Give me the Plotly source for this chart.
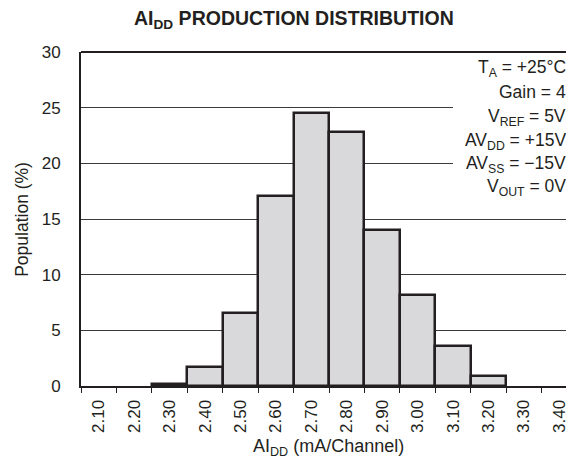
import plotly.graph_objects as go

bins = ["2.10", "2.20", "2.30", "2.40", "2.50", "2.60", "2.70",
        "2.80", "2.90", "3.00", "3.10", "3.20", "3.30", "3.40"]
population = [0, 0, 0.2, 1.7, 6.6, 17.1, 24.5, 22.85, 14.0, 8.2, 3.6, 0.9, 0, 0]
y_ticks = [0, 5, 10, 15, 20, 25, 30]
conditions = ["T<sub>A</sub> = +25°C", "Gain = 4", "V<sub>REF</sub> = 5V",
              "AV<sub>DD</sub> = +15V", "AV<sub>SS</sub> = −15V", "V<sub>OUT</sub> = 0V"]
cond_y = [0.952, 0.880, 0.805, 0.733, 0.664, 0.594]

FONT = "Liberation Sans, Arial, Helvetica, sans-serif"
DARK = "#231f20"
XR = [-0.5, 13.415]

outline_w = [2.5 if v > 0 else 0 for v in population]

fig = go.Figure()
fig.add_trace(go.Bar(x=bins, y=population,
                     marker=dict(color="#d9d9db", line=dict(color=DARK, width=outline_w)),
                     showlegend=False, hoverinfo="x+y"))

fig.update_layout(
    width=566, height=453,
    margin=dict(l=73, r=0, t=44, b=75),
    paper_bgcolor="white", plot_bgcolor="white",
    bargap=0,
    font=dict(family=FONT, color=DARK),
    xaxis=dict(type="category", categoryorder="array", categoryarray=bins,
               range=XR, tickson="boundaries", ticks="outside", ticklen=5,
               tickwidth=1.2, tickcolor=DARK, tickangle=-90,
               ticklabelstandoff=5,
               tickfont=dict(size=17, color=DARK),
               showline=True, linewidth=2, linecolor=DARK, showgrid=False,
               zeroline=False),
    xaxis2=dict(overlaying="x", anchor="y", range=XR, showticklabels=False,
                tickvals=[i - 0.5 for i in range(len(bins) + 1)],
                ticks="inside", ticklen=4, tickwidth=1.2, tickcolor=DARK,
                showgrid=False, zeroline=False, showline=False, side="bottom"),
    yaxis=dict(range=[0, 30], tickvals=y_ticks, ticks="outside", ticklen=15,
               tickcolor="rgba(0,0,0,0)", tickfont=dict(size=17, color=DARK),
               showgrid=True, gridcolor="#3a3a3a", gridwidth=1,
               showline=True, linewidth=2, linecolor=DARK, zeroline=False),
)

# top border of the frame
fig.add_shape(type="line", xref="paper", yref="paper", x0=0, x1=1, y0=1, y1=1,
              line=dict(color=DARK, width=2), layer="above")
# white background behind the conditions text
fig.add_shape(type="rect", xref="paper", yref="paper", x0=0.7546, x1=0.986,
              y0=0.56, y1=0.99, fillcolor="white", line=dict(width=0), layer="above")

for txt, yy in zip(conditions, cond_y):
    fig.add_annotation(text=txt, xref="paper", yref="paper", x=0.988, y=yy,
                       xanchor="right", yanchor="middle", showarrow=False,
                       font=dict(size=17.5, color=DARK, family=FONT))

fig.add_annotation(text="<b>AI<sub>DD</sub> PRODUCTION DISTRIBUTION</b>",
                   xref="paper", yref="paper", x=0.432, y=1.097,
                   xanchor="center", yanchor="middle", showarrow=False,
                   font=dict(size=19.5, color=DARK, family=FONT))
fig.add_annotation(text="AI<sub>DD</sub> (mA/Channel)",
                   xref="paper", yref="paper", x=0.502, y=-0.183,
                   xanchor="center", yanchor="middle", showarrow=False,
                   font=dict(size=18, color=DARK, family=FONT))
fig.add_annotation(text="Population (%)",
                   xref="paper", yref="paper", x=-0.12, y=0.5, textangle=-90,
                   xanchor="center", yanchor="middle", showarrow=False,
                   font=dict(size=17.5, color=DARK, family=FONT))

fig.write_html("out.html")
